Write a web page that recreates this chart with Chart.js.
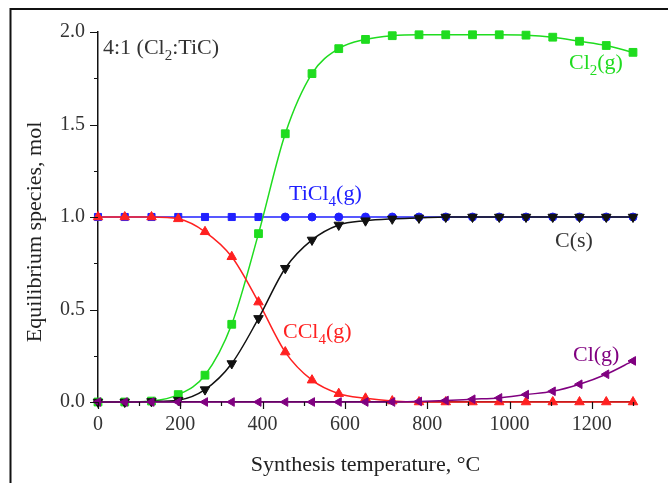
<!DOCTYPE html>
<html>
<head>
<meta charset="utf-8">
<script src="https://cdn.jsdelivr.net/npm/chart.js@4.4.0/dist/chart.umd.min.js"></script>
<style>
  html, body { margin: 0; padding: 0; background: #fff; }
  #wrap { position: relative; width: 668px; height: 483px; }
</style>
</head>
<body>
<div id="wrap"><canvas id="c" width="668" height="483"></canvas></div>
<script>
// ---- data ----
const temps = [0, 65, 130, 195, 260, 325, 390, 455, 520, 585, 650, 715, 780, 845, 910, 975, 1040, 1105, 1170, 1235, 1300];
const cl2   = [0, 0, 0.005, 0.04, 0.145, 0.42, 0.91, 1.45, 1.775, 1.91, 1.96, 1.98, 1.985, 1.985, 1.985, 1.985, 1.983, 1.972, 1.95, 1.927, 1.89];
const ticl4 = [1, 1, 1, 1, 1, 1, 1, 1, 1, 1, 1, 1, 1, 1, 1, 1, 1, 1, 1, 1, 1];
const ccl4  = [1, 1, 1, 0.99, 0.92, 0.785, 0.54, 0.27, 0.118, 0.045, 0.02, 0.005, 0, 0, 0, 0, 0, 0, 0, 0, 0];
const cs    = [0, 0, 0.003, 0.01, 0.067, 0.208, 0.452, 0.723, 0.876, 0.957, 0.98, 0.99, 0.995, 1, 1, 1, 1, 1, 1, 1, 1];
const clg   = [0, 0, 0, 0, 0, 0, 0, 0, 0, 0, 0, 0, 0.003, 0.008, 0.015, 0.022, 0.04, 0.058, 0.096, 0.15, 0.222];
const xTickLabels = [0, 200, 400, 600, 800, 1000, 1200];
const yTickLabels = [0, 0.5, 1.0, 1.5, 2.0];

const GREEN = '#1fdc1f', BLUE = '#2020ff', RED = '#ff2020', PURPLE = '#800080', BLACK = '#111111';
const SERIF = '"Liberation Serif", "Times New Roman", serif';

function pts(arr) { return temps.map((t, i) => ({ x: t, y: arr[i] })); }

function ds(label, arr, color, style, rot, r) {
  return {
    label, data: pts(arr), borderColor: color, backgroundColor: color,
    borderWidth: 1.5, pointStyle: style, pointRotation: rot || 0,
    pointRadius: r, pointHoverRadius: r, pointBorderWidth: 1,
    cubicInterpolationMode: 'monotone', clip: false, fill: false
  };
}

function drawRich(ctx, x, y, parts, size, color) {
  ctx.fillStyle = color;
  ctx.textBaseline = 'alphabetic';
  ctx.textAlign = 'left';
  let cx = x;
  for (const [t, kind] of parts) {
    if (kind === 'sub') {
      ctx.font = Math.round(size * 0.68) + 'px ' + SERIF;
      ctx.fillText(t, cx, y + size * 0.27);
    } else if (kind === 'sup') {
      ctx.font = Math.round(size * 0.68) + 'px ' + SERIF;
      ctx.fillText(t, cx, y - size * 0.38);
    } else {
      ctx.font = size + 'px ' + SERIF;
      ctx.fillText(t, cx, y);
    }
    cx += ctx.measureText(t).width;
  }
}

const deco = {
  id: 'deco',
  afterDraw(chart) {
    const { ctx } = chart;
    const x = chart.scales.x, y = chart.scales.y;
    ctx.save();
    // figure frame
    ctx.strokeStyle = '#111'; ctx.lineWidth = 2;
    ctx.beginPath(); ctx.moveTo(10.5, 483); ctx.lineTo(10.5, 9); ctx.lineTo(668, 9); ctx.stroke();
    // ticks (major + minor)
    ctx.lineWidth = 1.2; ctx.strokeStyle = '#111';
    ctx.beginPath();
    for (let v = 0; v <= 1300; v += 100) {
      const px = Math.round(x.getPixelForValue(v)) + 0.5;
      const len = (v % 200 === 0) ? 7 : 4;
      ctx.moveTo(px, y.bottom); ctx.lineTo(px, y.bottom + len);
    }
    for (let k = 0; k <= 8; k++) {
      const py = Math.round(y.getPixelForValue(k * 0.25)) + 0.5;
      const len = (k % 2 === 0) ? 8 : 4;
      ctx.moveTo(x.left - len, py); ctx.lineTo(x.left, py);
    }
    ctx.stroke();
    // axis titles
    ctx.font = '22px ' + SERIF;
    ctx.fillStyle = '#222';
    ctx.textAlign = 'center'; ctx.textBaseline = 'alphabetic';
    ctx.fillText('Synthesis temperature, °C', (x.left + x.right) / 2, 471);
    ctx.save();
    ctx.translate(41, 232);
    ctx.rotate(-Math.PI / 2);
    ctx.fillText('Equilibrium species, mol', 0, 0);
    ctx.restore();
    // in-plot labels
    drawRich(ctx, 103, 54, [['4:1 (Cl', 'n'], ['2', 'sub'], [':TiC)', 'n']], 22, '#333');
    drawRich(ctx, 569, 69, [['Cl', 'n'], ['2', 'sub'], ['(g)', 'n']], 22, GREEN);
    drawRich(ctx, 289, 200, [['TiCl', 'n'], ['4', 'sub'], ['(g)', 'n']], 22, BLUE);
    drawRich(ctx, 555, 247, [['C(s)', 'n']], 22, '#333');
    drawRich(ctx, 283, 338, [['CCl', 'n'], ['4', 'sub'], ['(g)', 'n']], 22, RED);
    drawRich(ctx, 573, 361, [['Cl(g)', 'n']], 22, PURPLE);
    ctx.restore();
  }
};

new Chart(document.getElementById('c'), {
  type: 'line',
  data: {
    datasets: [
      ds('Cl(g)', clg, PURPLE, 'triangle', -90, 5),
      ds('C(s)', cs, BLACK, 'triangle', 180, 5.5),
      ds('CCl4(g)', ccl4, RED, 'triangle', 0, 5.5),
      ds('Cl2(g)', cl2, GREEN, 'rect', 0, 5.5),
      Object.assign(ds('TiCl4(g)', ticl4, BLUE, 'rect', 0, 5), {
        pointStyle: (c) => c.dataIndex <= 6 ? 'rect' : 'circle',
        pointRadius: (c) => c.dataIndex <= 6 ? 5 : 4
      })
    ]
  },
  options: {
    responsive: false,
    animation: false,
    events: [],
    layout: { padding: { left: 0, top: 32, right: 35, bottom: 0 } },
    plugins: { legend: { display: false }, tooltip: { enabled: false }, title: { display: false } },
    scales: {
      x: {
        type: 'linear', min: 0, max: 1300,
        grid: { display: false, drawTicks: false, tickLength: 0 },
        border: { display: true, color: '#111', width: 1.5 },
        afterBuildTicks: (s) => { s.ticks = xTickLabels.map(v => ({ value: v })); },
        afterFit: (s) => { s.height = 81; },
        ticks: { autoSkip: false, maxRotation: 0, padding: 11, color: '#333', font: { family: SERIF, size: 20 },
                 callback: (v) => String(v) }
      },
      y: {
        type: 'linear', min: 0, max: 2,
        grid: { display: false, drawTicks: false, tickLength: 0 },
        border: { display: true, color: '#111', width: 1.5 },
        afterBuildTicks: (s) => { s.ticks = yTickLabels.map(v => ({ value: v })); },
        afterFit: (s) => { s.width = 98; },
        ticks: { padding: 13, color: '#333', font: { family: SERIF, size: 20 }, callback: (v) => Number(v).toFixed(1) }
      }
    }
  },
  plugins: [deco]
});
</script>
</body>
</html>
